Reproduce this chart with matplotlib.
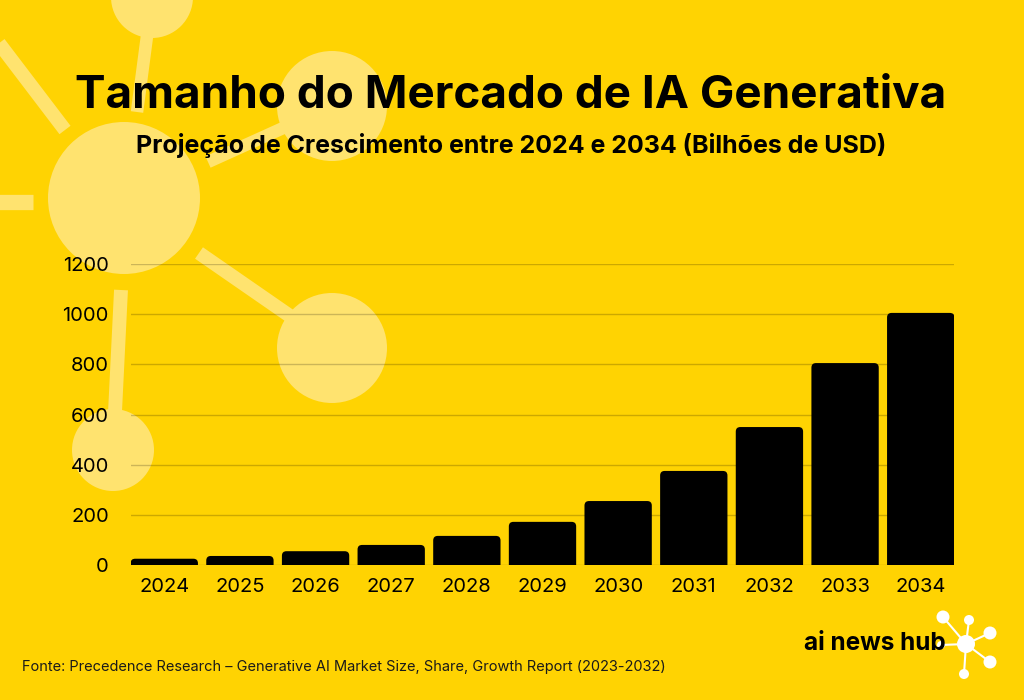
import matplotlib
matplotlib.use("Agg")
import matplotlib.pyplot as plt
from matplotlib.patches import Circle, FancyBboxPatch

years = ["2024", "2025", "2026", "2027", "2028", "2029", "2030", "2031", "2032", "2033", "2034"]
market_size = [25, 36, 55, 80, 116, 172, 255, 375, 550, 805, 1005]
y_ticks = [0, 200, 400, 600, 800, 1000, 1200]

title = "Tamanho do Mercado de IA Generativa"
subtitle = "Projeção de Crescimento entre 2024 e 2034 (Bilhões de USD)"
source = "Fonte: Precedence Research – Generative AI Market Size, Share, Growth Report (2023-2032)"

BG = "#FFD302"
PALE = "#FFE36F"
W, H = 1024, 700

plt.rcParams["font.family"] = ["Inter", "DejaVu Sans"]

fig = plt.figure(figsize=(W / 100, H / 100), dpi=100, facecolor=BG)

# camada de fundo em pixels
bg = fig.add_axes([0, 0, 1, 1], zorder=0)
bg.set_xlim(0, W)
bg.set_ylim(H, 0)
bg.axis("off")

for cx, cy, r in [(124, 198, 76), (152, -3, 41), (332, 106, 55), (332, 348, 55), (113, 450, 41)]:
    bg.add_patch(Circle((cx, cy), r, color=PALE, lw=0))
for x0, y0, x1, y1, lw in [(-5, 38, 65, 130, 10), (147, 36, 137, 112, 9), (208, 162, 292, 124, 9),
                           (199, 253, 290, 316, 10), (121, 290, 115, 412, 10), (-2, 202, 33, 202, 11)]:
    bg.plot([x0, x1], [y0, y1], color=PALE, lw=lw, solid_capstyle="butt")

# grafico
ax = fig.add_axes([131 / W, 1 - 565 / H, (954 - 131) / W, (565 - 264) / H], zorder=1)
ax.patch.set_alpha(0)
ax.set_xlim(-0.44, 10.44)
ax.set_ylim(0, 1200)
for s in ax.spines.values():
    s.set_visible(False)
ax.set_axisbelow(True)
ax.yaxis.grid(True, color="#000000", alpha=0.2, lw=1)
ax.xaxis.grid(False)
ax.set_yticks(y_ticks)
ax.set_xticks(range(len(years)))
ax.set_xticklabels(years)
ax.tick_params(length=0, labelsize=14.5, colors="black")
ax.tick_params(axis="y", pad=16)
ax.tick_params(axis="x", pad=9)

# barras com cantos arredondados, a base fica cortada pelo eixo
bar_w = 0.89
aspect = (301 / 1200) ** -1 * (823 / 10.88) ** 1
aspect = (1200 / 301) / (10.88 / 823)
for i, v in enumerate(market_size):
    ax.add_patch(FancyBboxPatch((i - bar_w / 2, -30), bar_w, v + 30,
                                boxstyle="round,pad=0,rounding_size=0.06",
                                mutation_aspect=aspect, fc="black", ec="none"))

fig.text(511 / W, 1 - 96 / H, title, ha="center", va="center", fontsize=33, fontweight="bold", color="black", zorder=3)
fig.text(511 / W, 1 - 146 / H, subtitle, ha="center", va="center", fontsize=18, fontweight="bold", color="black", zorder=3)
fig.text(22 / W, 1 - 667 / H, source, ha="left", va="center", fontsize=10.5, color="#1a1a1a", zorder=3)

# logo
bg.text(875, 644, "ai news hub", ha="center", va="center", fontsize=17.5, fontweight="bold", color="black")
hub = (966, 644)
for nx, ny, r in [(943, 617, 6.5), (969, 620, 5), (990, 633, 6.5), (990, 662, 6.5), (964, 674, 5), (941, 645, 4)]:
    bg.plot([hub[0], nx], [hub[1], ny], color="white", lw=1.5)
    bg.add_patch(Circle((nx, ny), r, color="white", lw=0))
bg.add_patch(Circle(hub, 9, color="white", lw=0))

fig.savefig("out.png", dpi=100, facecolor=BG)
